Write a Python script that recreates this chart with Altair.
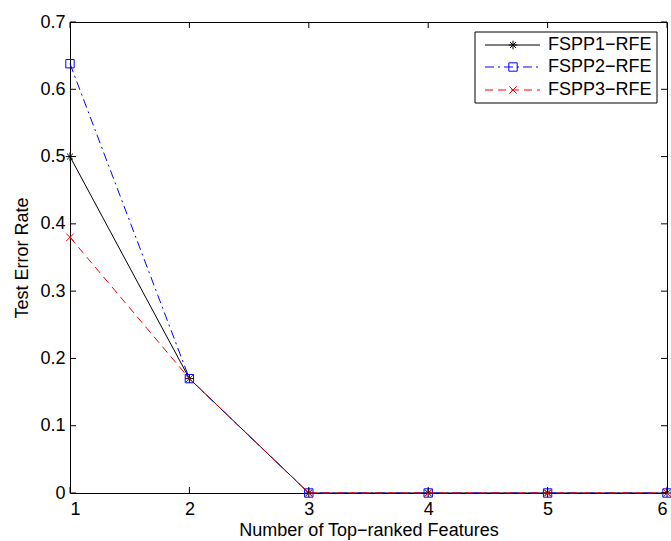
import altair as alt
import pandas as pd

# Test error rate versus number of top-ranked features for three FSPP variants
n_features = [1, 2, 3, 4, 5, 6]
fspp1_rfe = [0.5, 0.17, 0.0, 0.0, 0.0, 0.0]
fspp2_rfe = [0.638, 0.17, 0.0, 0.0, 0.0, 0.0]
fspp3_rfe = [0.38, 0.17, 0.0, 0.0, 0.0, 0.0]

series_names = ["FSPP1\u2212RFE", "FSPP2\u2212RFE", "FSPP3\u2212RFE"]
series_values = [fspp1_rfe, fspp2_rfe, fspp3_rfe]
x_ticks = [1, 2, 3, 4, 5, 6]
y_ticks = [0, 0.1, 0.2, 0.3, 0.4, 0.5, 0.6, 0.7]

W, H = 597, 471
FONT = "Liberation Sans"
FS = 18

# marker paths in the unit square
ASTERISK = "M -1 0 L 1 0 M 0 -1 L 0 1 M -0.7 -0.7 L 0.7 0.7 M -0.7 0.7 L 0.7 -0.7"
XMARK = "M -1 -1 L 1 1 M -1 1 L 1 -1"

styles = [
    dict(color="#000000", dash=[], shape=ASTERISK, size=72),
    dict(color="#0000ff", dash=[9, 4, 2, 4], shape="square", size=70),
    dict(color="#ff0000", dash=[8, 5], shape=XMARK, size=56),
]

x_scale = alt.Scale(domain=[1, 6], nice=False, zero=False)
y_scale = alt.Scale(domain=[0, 0.7], nice=False)

x_axis = alt.Axis(values=x_ticks, format="d", ticks=False, domain=False, grid=False,
                  labelFont=FONT, labelFontSize=FS, labelColor="black",
                  labelPadding=7, title="Number of Top\u2212ranked Features",
                  titleFont=FONT, titleFontSize=FS, titleFontWeight="normal",
                  titleColor="black", titlePadding=3)
y_axis = alt.Axis(values=y_ticks, ticks=False, domain=False, grid=False,
                  labelFont=FONT, labelFontSize=FS, labelColor="black",
                  labelPadding=5,
                  labelExpr="datum.value == 0 ? '0' : format(datum.value, '.1f')",
                  title="Test Error Rate", titleFont=FONT, titleFontSize=FS,
                  titleFontWeight="normal", titleColor="black", titlePadding=8)

layers = []
for name, vals, st in zip(series_names, series_values, styles):
    df = pd.DataFrame({"n": n_features, "err": vals, "series": name})
    base = alt.Chart(df)
    line_kw = dict(color=st["color"], strokeWidth=1)
    if st["dash"]:
        line_kw["strokeDash"] = st["dash"]
    layers.append(base.mark_line(**line_kw).encode(
        x=alt.X("n:Q", scale=x_scale, axis=x_axis),
        y=alt.Y("err:Q", scale=y_scale, axis=y_axis)))
    layers.append(base.mark_point(shape=st["shape"], size=st["size"], filled=False,
                                  color=st["color"], strokeWidth=1, opacity=1).encode(
        x=alt.X("n:Q", scale=x_scale),
        y=alt.Y("err:Q", scale=y_scale)))

# inward tick marks on all four sides of the box
xt = alt.Chart(pd.DataFrame({"t": x_ticks}))
yt = alt.Chart(pd.DataFrame({"t": y_ticks}))
tick_len = 6
layers.append(xt.mark_rule(color="black", strokeWidth=1).encode(
    x=alt.X("t:Q", scale=x_scale), y=alt.value(H), y2=alt.value(H - tick_len)))
layers.append(xt.mark_rule(color="black", strokeWidth=1).encode(
    x=alt.X("t:Q", scale=x_scale), y=alt.value(0), y2=alt.value(tick_len)))
layers.append(yt.mark_rule(color="black", strokeWidth=1).encode(
    y=alt.Y("t:Q", scale=y_scale), x=alt.value(0), x2=alt.value(tick_len)))
layers.append(yt.mark_rule(color="black", strokeWidth=1).encode(
    y=alt.Y("t:Q", scale=y_scale), x=alt.value(W), x2=alt.value(W - tick_len)))

# boxed legend in the upper right corner
box_x0, box_x1, box_y0, box_y1 = 405, 587, 10, 81
row_y = [23, 45, 68]
seg_x0, seg_x1, mark_x, text_x = 415, 470, 443, 478
leg = alt.Chart(pd.DataFrame({"k": [0]}))
layers.append(leg.mark_rect(fill="white", stroke="black", strokeWidth=1).encode(
    x=alt.value(box_x0), x2=alt.value(box_x1), y=alt.value(box_y0), y2=alt.value(box_y1)))
for name, st, ry in zip(series_names, styles, row_y):
    rk = dict(color=st["color"], strokeWidth=1)
    if st["dash"]:
        rk["strokeDash"] = st["dash"]
    layers.append(leg.mark_rule(**rk).encode(
        x=alt.value(seg_x0), x2=alt.value(seg_x1), y=alt.value(ry)))
    layers.append(leg.mark_point(shape=st["shape"], size=st["size"], filled=False,
                                 color=st["color"], strokeWidth=1, opacity=1).encode(
        x=alt.value(mark_x), y=alt.value(ry)))
    layers.append(leg.mark_text(text=name, align="left", baseline="middle", font=FONT,
                                fontSize=FS, color="black").encode(
        x=alt.value(text_x), y=alt.value(ry)))

chart = alt.layer(*layers).properties(
    width=W, height=H,
    padding={"left": 70, "top": 22, "right": 4, "bottom": 48},
    autosize=alt.AutoSizeParams(type="none"),
    background="white",
).configure_view(stroke="black", strokeWidth=1)

chart.save("out.html", embed_options={"renderer": "svg", "actions": False})
